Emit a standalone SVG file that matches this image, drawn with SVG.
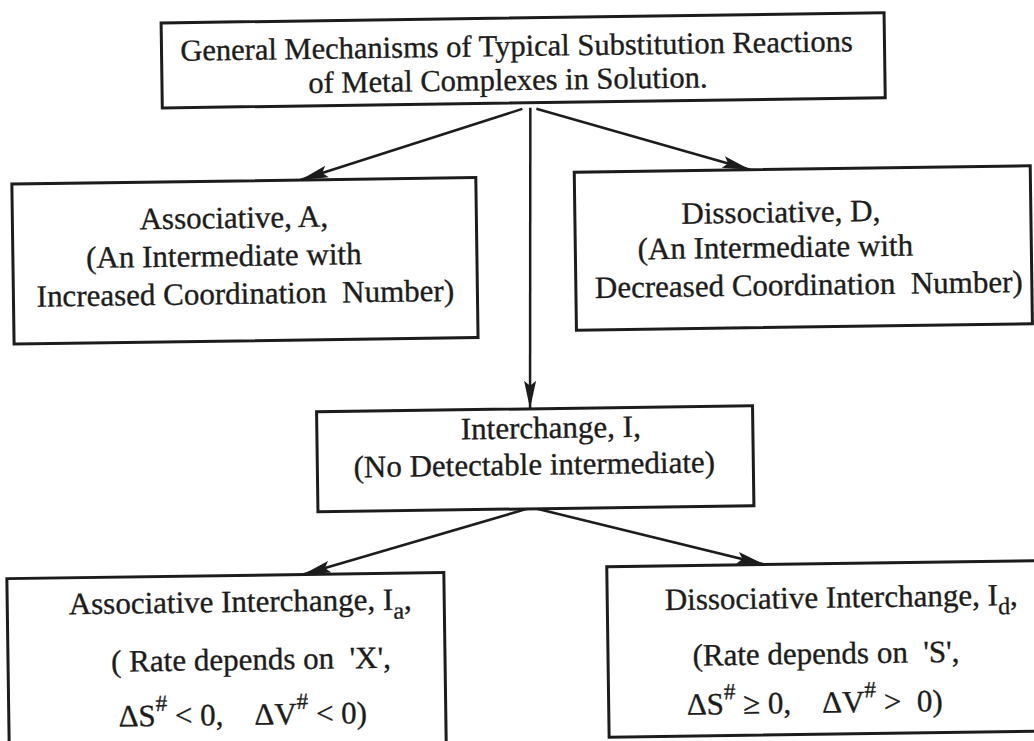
<svg xmlns="http://www.w3.org/2000/svg" width="1034" height="741" viewBox="0 0 1034 741">
<style>
.box{fill:#fff;stroke:#1c1c1c;stroke-width:3}
.t{font-family:"Liberation Serif","Times New Roman",serif;font-size:31px;fill:#1c1c1c;stroke:#1c1c1c;stroke-width:0.35;text-anchor:middle}
.c{stroke:#1c1c1c;stroke-width:2.5;fill:none;marker-end:url(#ah)}
</style>
<defs>
<marker id="ah" markerUnits="userSpaceOnUse" markerWidth="30" markerHeight="14" refX="28" refY="7" orient="auto">
<path d="M0,1 L28,7 L0,13 L5,7 z" fill="#1c1c1c"/>
</marker>
</defs>
<rect width="1034" height="741" fill="#fff"/>
<g transform="rotate(-0.8 517 370)">
<g id="connectors">
<line class="c" x1="526" y1="109" x2="303" y2="177"/>
<line class="c" x1="534" y1="108" x2="529.5" y2="409"/>
<line class="c" x1="540" y1="109" x2="753" y2="173"/>
<line class="c" x1="525" y1="509" x2="300" y2="571.5"/>
<line class="c" x1="535" y1="509" x2="762" y2="568"/>
</g>
<g id="general">
<rect class="box" x="166" y="18" width="723" height="85"/>
<text class="t" style="font-size:30.5px"><tspan x="521" y="56">General Mechanisms of Typical Substitution Reactions</tspan><tspan x="512" y="90">of Metal Complexes in Solution.</tspan></text>
</g>
<g id="associative">
<rect class="box" x="14.5" y="177" width="464" height="160"/>
<text class="t" x="236" y="224">Associative, A,</text>
<text class="t" x="225.5" y="262">(An Intermediate with</text>
<text class="t" x="246.5" y="300" xml:space="preserve">Increased Coordination  Number)</text>
</g>
<g id="dissociative">
<rect class="box" x="577" y="173" width="456" height="158"/>
<text class="t" x="783" y="226">Dissociative, D,</text>
<text class="t" x="777" y="261">(An Intermediate with</text>
<text class="t" x="810" y="299" xml:space="preserve">Decreased Coordination  Number)</text>
</g>
<g id="interchange">
<rect class="box" x="316" y="409" width="436" height="100"/>
<text class="t" x="550" y="438.5">Interchange, I,</text>
<text class="t" x="533" y="475">(No Detectable intermediate)</text>
</g>
<g id="assoc-interchange">
<rect class="box" x="4" y="571.5" width="437" height="230"/>
<text class="t" x="237" y="608">Associative Interchange, I<tspan font-size="24" dy="9">a</tspan><tspan dy="-9">,</tspan></text>
<text class="t" x="247" y="666" xml:space="preserve">( Rate depends on  'X',</text>
<text class="t" x="238" y="721" xml:space="preserve">ΔS<tspan font-size="23" dy="-15">#</tspan><tspan dy="15"> &lt; 0,    ΔV</tspan><tspan font-size="23" dy="-15">#</tspan><tspan dy="15"> &lt; 0)</tspan></text>
</g>
<g id="dissoc-interchange">
<rect class="box" x="604" y="568" width="460" height="170.5"/>
<text class="t" x="838" y="612">Dissociative Interchange, I<tspan font-size="24" dy="9">d</tspan><tspan dy="-9">,</tspan></text>
<text class="t" x="822" y="668" xml:space="preserve">(Rate depends on  'S',</text>
<text class="t" x="810" y="717" xml:space="preserve">ΔS<tspan font-size="23" dy="-15">#</tspan><tspan dy="15"> ≥ 0,    ΔV</tspan><tspan font-size="23" dy="-15">#</tspan><tspan dy="15"> &gt;  0)</tspan></text>
</g>
</g>
</svg>
